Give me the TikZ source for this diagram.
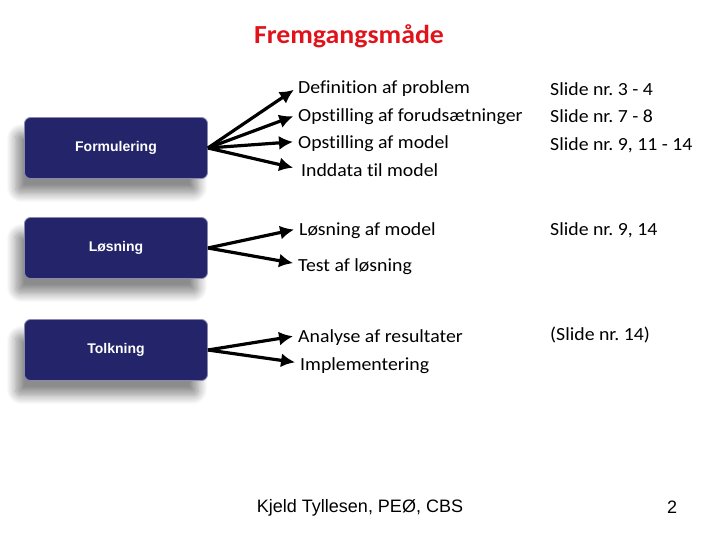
\documentclass[tikz,border=0pt]{standalone}
\usepackage{fontspec}
\setmainfont{Carlito}[Ligatures={NoCommon,NoContextual}, FakeStretch=1.07]
\newfontfamily\arialfont{Liberation Sans}
\usetikzlibrary{arrows.meta, positioning, shadows.blur}
\frenchspacing

\definecolor{boxnavy}{HTML}{24246A}
\definecolor{boxrim}{HTML}{8A8AB0}
\definecolor{titlered}{HTML}{E0131B}

\tikzset{
  stepbox/.style={draw=boxrim, line width=0.8pt, fill=boxnavy, rounded corners=6pt,
    minimum width=183pt, minimum height=61pt, text=white,
    font=\arialfont\bfseries\fontsize{14}{16}\selectfont,
    blur shadow={shadow xshift=-9pt, shadow yshift=-15pt, shadow blur steps=12,
      shadow blur radius=9pt, shadow opacity=45}},
  item/.style={anchor=base west, inner sep=0pt, text height=14pt, text depth=0pt,
    font=\fontsize{18.5}{22}\selectfont},
  pil/.style={line width=3.2pt, -{Latex[length=14pt,width=14pt]}, shorten >=5pt}
}

\begin{document}
\begin{tikzpicture}[x=1pt, y=-1pt]
  \useasboundingbox (0,0) rectangle (720,540);

  % title
  \node[anchor=base, text=titlered, font=\bfseries\fontsize{26}{28}\selectfont] (title) at (349,43.5) {Fremgangsmåde};

  % steps
  \node[stepbox] (form) at (116,148) {Formulering};
  \node[stepbox] (loes) at (116,248) {Løsning};
  \node[stepbox] (tolk) at (116,350) {Tolkning};

  % items
  \node[item] (def) at (298,94) {Definition af problem};
  \node[item] (forud) at (298,121.5) {Opstilling af forudsætninger};
  \node[item] (model) at (298,148.5) {Opstilling af model};
  \node[item] (inddata) at (301,176.5) {Inddata til model};
  \node[item] (loesmod) at (299,235.5) {Løsning af model};
  \node[item] (test) at (298,271) {Test af løsning};
  \node[item] (analyse) at (298,342.5) {Analyse af resultater};
  \node[item] (impl) at (300,370) {Implementering};

  % slide references
  \node[item] (s1) at (550,95.5) {Slide nr. 3 - 4};
  \node[item] (s2) at (550,123) {Slide nr. 7 - 8};
  \node[item] (s3) at (550,151) {Slide nr. 9, 11 - 14};
  \node[item] (s4) at (550,235.5) {Slide nr. 9, 14};
  \node[item] (s5) at (550,340) {(Slide nr. 14)};

  % arrows
  \draw[pil] (form.east) -- (def.west);
  \draw[pil] (form.east) -- (forud.west);
  \draw[pil] (form.east) -- (model.west);
  \draw[pil, shorten >=8pt] (form.east) -- (inddata.west);
  \draw[pil] (loes.east) -- (loesmod.west);
  \draw[pil] (loes.east) -- (test.west);
  \draw[pil] (tolk.east) -- (analyse.west);
  \draw[pil] (tolk.east) -- (impl.west);

  % footer
  \node[anchor=base, font=\arialfont\fontsize{18}{20}\selectfont] (footer) at (360,512) {Kjeld Tyllesen, PEØ, CBS};
  \node[anchor=base, font=\arialfont\fontsize{18}{20}\selectfont] (pagenr) at (672,513) {2};
\end{tikzpicture}
\end{document}
